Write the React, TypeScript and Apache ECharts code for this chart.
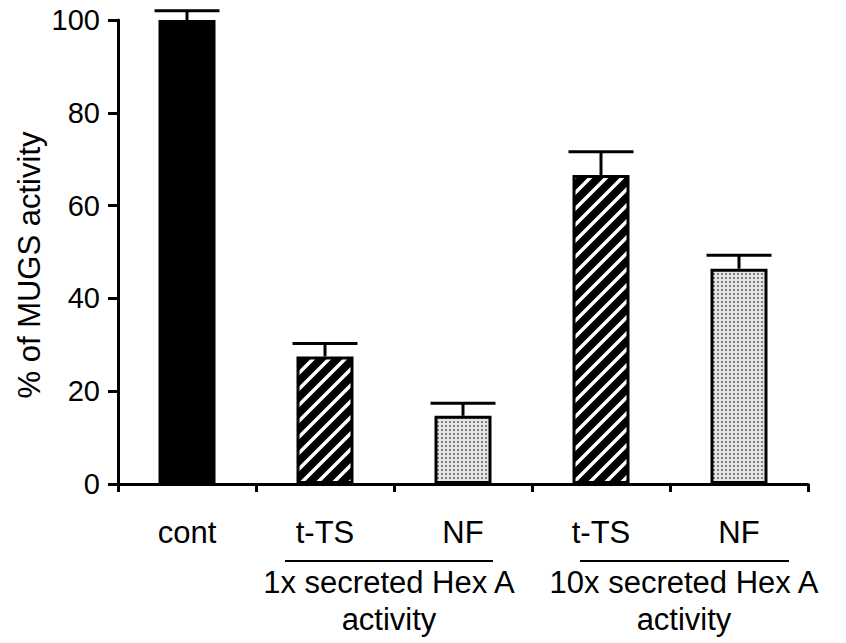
import React, { useEffect, useRef } from "react";
import * as echarts from "echarts";

const categories = ["cont", "t-TS", "NF", "t-TS", "NF"];
const values = [100, 27.5, 14.7, 66.6, 46.4];
const errors = [2, 2.8, 2.7, 5, 2.9];
const fills = ["solid", "hatch", "dots", "hatch", "dots"];
const yTicks = [0, 20, 40, 60, 80, 100];
const groupLabels = ["1x secreted Hex A\nactivity", "10x secreted Hex A\nactivity"];
const yTitle = "% of MUGS activity";

const FONT = "'Liberation Sans', Arial, Helvetica, sans-serif";

function makeHatch() {
  const s = 16;
  const c = document.createElement("canvas");
  c.width = s;
  c.height = s;
  const g = c.getContext("2d")!;
  g.fillStyle = "#000";
  g.fillRect(0, 0, s, s);
  g.strokeStyle = "#fff";
  g.lineWidth = 3.5;
  g.beginPath();
  g.moveTo(-s, s);
  g.lineTo(s, -s);
  g.moveTo(-1, s + 1);
  g.lineTo(s + 1, -1);
  g.moveTo(0, 2 * s);
  g.lineTo(2 * s, 0);
  g.stroke();
  return { image: c.toDataURL(), repeat: "repeat", imageWidth: s, imageHeight: s };
}

function makeDots() {
  const s = 4;
  const c = document.createElement("canvas");
  c.width = s;
  c.height = s;
  const g = c.getContext("2d")!;
  g.fillStyle = "#e6e6e6";
  g.fillRect(0, 0, s, s);
  g.fillStyle = "#808080";
  g.fillRect(1, 1, 2, 2);
  return { image: c.toDataURL(), repeat: "repeat", imageWidth: s, imageHeight: s };
}

export default function App() {
  const ref = useRef<HTMLDivElement>(null);
  useEffect(() => {
    if (!ref.current) return;
    const chart = echarts.init(ref.current, undefined, { renderer: "svg" });
    const hatch = makeHatch();
    const dots = makeDots();
    const fillFor = (f: string): any => (f === "solid" ? "#000" : f === "hatch" ? hatch : dots);

    const option: any = {
      animation: false,
      backgroundColor: "#fff",
      grid: { left: 118, right: 38, top: 20, bottom: 159, containLabel: false, outerBoundsMode: "none" },
      xAxis: {
        type: "category",
        data: categories,
        boundaryGap: true,
        axisLine: { show: true, lineStyle: { color: "#000", width: 3 } },
        axisTick: { show: true, length: 8, lineStyle: { color: "#000", width: 3 } },
        axisLabel: { color: "#000", fontSize: 31, fontFamily: FONT, margin: 33, interval: 0 },
        splitLine: { show: false },
      },
      yAxis: {
        type: "value",
        min: yTicks[0],
        max: yTicks[yTicks.length - 1],
        interval: yTicks[1] - yTicks[0],
        axisLine: { show: true, lineStyle: { color: "#000", width: 3 } },
        axisTick: { show: true, length: 10, lineStyle: { color: "#000", width: 3 } },
        axisLabel: { color: "#000", fontSize: 29, fontFamily: FONT, margin: 18, padding: [12, 0, 0, 0] },
        splitLine: { show: false },
      },
      series: [
        {
          type: "custom",
          z: 1,
          data: values.map((v, i) => [i, v, v + errors[i]]),
          encode: { x: 0, y: [1, 2] },
          renderItem: (_params: any, api: any) => {
            const i = api.value(0);
            const top = api.coord([i, api.value(2)]);
            const base = api.coord([i, api.value(1)]);
            const half = 32.5;
            return {
              type: "group",
              children: [
                {
                  type: "line",
                  shape: { x1: top[0], y1: base[1], x2: top[0], y2: top[1] },
                  style: { stroke: "#000", lineWidth: 3 },
                },
                {
                  type: "line",
                  shape: { x1: top[0] - half, y1: top[1], x2: top[0] + half, y2: top[1] },
                  style: { stroke: "#000", lineWidth: 3 },
                },
              ],
            };
          },
        },
        {
          type: "bar",
          z: 3,
          barWidth: 57,
          data: values.map((v, i) => ({
            value: v,
            itemStyle: { color: fillFor(fills[i]), borderColor: "#000", borderWidth: 3 },
          })),
        },
      ],
      graphic: [
        {
          type: "text",
          x: 29,
          y: 265,
          rotation: Math.PI / 2,
          style: {
            text: yTitle,
            fill: "#000",
            fontSize: 31,
            fontFamily: FONT,
            textAlign: "center",
            textVerticalAlign: "middle",
          },
        },
        { type: "line", shape: { x1: 285, y1: 561, x2: 493, y2: 561 }, style: { stroke: "#000", lineWidth: 2 } },
        { type: "line", shape: { x1: 580, y1: 561, x2: 789, y2: 561 }, style: { stroke: "#000", lineWidth: 2 } },
        {
          type: "text",
          x: 389,
          y: 564,
          style: {
            text: groupLabels[0],
            fill: "#000",
            fontSize: 31,
            fontFamily: FONT,
            textAlign: "center",
            textVerticalAlign: "top",
            lineHeight: 37,
          },
        },
        {
          type: "text",
          x: 684,
          y: 564,
          style: {
            text: groupLabels[1],
            fill: "#000",
            fontSize: 31,
            fontFamily: FONT,
            textAlign: "center",
            textVerticalAlign: "top",
            lineHeight: 37,
          },
        },
      ],
    };
    chart.setOption(option);
    return () => chart.dispose();
  }, []);
  return <div ref={ref} style={{ position: "fixed", left: 0, top: 0, width: 846, height: 643 }} />;
}
